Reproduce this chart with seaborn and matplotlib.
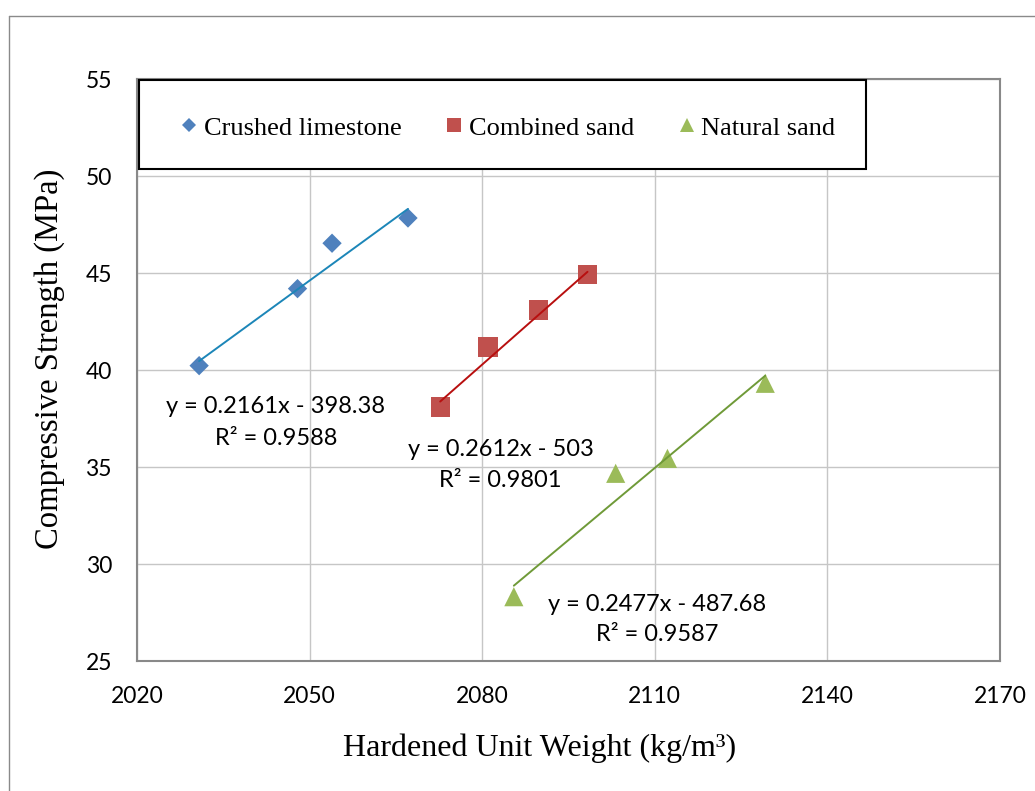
import numpy as np
import pandas as pd
import matplotlib
matplotlib.use("Agg")
import matplotlib.pyplot as plt
import seaborn as sns
from matplotlib.lines import Line2D
from matplotlib.patches import Rectangle

# ---------------- data ----------------
series = ["Crushed limestone", "Combined sand", "Natural sand"]
x_limestone = [2030.8, 2047.9, 2053.9, 2067.1]
y_limestone = [40.24, 44.21, 46.55, 47.85]
x_combined = [2072.7, 2081.0, 2089.8, 2098.3]
y_combined = [38.11, 41.20, 43.11, 44.93]
x_natural = [2085.5, 2103.2, 2112.2, 2129.2]
y_natural = [28.33, 34.69, 35.46, 39.33]
slopes = [0.2161, 0.2612, 0.2477]
intercepts = [-398.38, -503.0, -487.68]
eq_labels = ["y = 0.2161x - 398.38", "y = 0.2612x - 503", "y = 0.2477x - 487.68"]
r2_labels = ["R² = 0.9588", "R² = 0.9801", "R² = 0.9587"]
x_ticks = [2020, 2050, 2080, 2110, 2140, 2170]
y_ticks = [25, 30, 35, 40, 45, 50, 55]

# label positions (data coords)
eq_pos = [(2044.0, 38.15), (2083.2, 35.9), (2110.45, 27.95)]
r2_pos = [(2044.2, 36.5), (2083.2, 34.3), (2110.45, 26.4)]

# ---------------- style ----------------
sns.set_style("white")
plt.rcParams["font.family"] = ["Lato", "DejaVu Sans"]
plt.rcParams["text.color"] = "black"
plt.rcParams["axes.labelcolor"] = "black"
plt.rcParams["xtick.color"] = "black"
plt.rcParams["ytick.color"] = "black"

marker_colors = ["#4F81BD", "#C0504D", "#9BBB59"]
line_colors = ["#1C86B8", "#B80F0F", "#6F9A38"]
markers = ["D", "s", "^"]
marker_s = [97, 190, 190]
legend_ms = [7.5, 10.0, 10.5]

df = pd.concat([
    pd.DataFrame({"x": x_limestone, "y": y_limestone, "Material": series[0]}),
    pd.DataFrame({"x": x_combined, "y": y_combined, "Material": series[1]}),
    pd.DataFrame({"x": x_natural, "y": y_natural, "Material": series[2]}),
], ignore_index=True)

fig = plt.figure(figsize=(10.35, 7.91), dpi=100)
ax = fig.add_axes([137 / 1035, 1 - 661.3 / 791, 863 / 1035, 582 / 791])

for i, name in enumerate(series):
    sub = df[df["Material"] == name]
    sns.scatterplot(data=sub, x="x", y="y", marker=markers[i], s=marker_s[i],
                    color=marker_colors[i], edgecolor="none", linewidth=0,
                    ax=ax, zorder=3, legend=False)
    xr = np.array([sub["x"].min(), sub["x"].max()])
    sns.lineplot(x=xr, y=slopes[i] * xr + intercepts[i], color=line_colors[i],
                 lw=1.4, ax=ax, zorder=4, legend=False)
    ax.text(eq_pos[i][0], eq_pos[i][1], eq_labels[i], ha="center", va="center",
            fontsize=17, family=["Lato", "DejaVu Sans"], color="black", zorder=5)
    ax.text(r2_pos[i][0], r2_pos[i][1], r2_labels[i], ha="center", va="center",
            fontsize=17, family=["Lato", "DejaVu Sans"], color="black", zorder=5)

ax.set_xlim(2020, 2170)
ax.set_ylim(25, 55)
ax.set_xticks(x_ticks)
ax.set_yticks(y_ticks)
ax.grid(True, color="#C6C6C6", lw=1.0)
ax.set_axisbelow(True)
for sp in ax.spines.values():
    sp.set_color("#898989")
    sp.set_linewidth(1.5)
ax.tick_params(axis="both", length=0, labelsize=16.5, labelcolor="black")
ax.tick_params(axis="y", pad=18)
ax.tick_params(axis="x", pad=18)

serif = ["Liberation Serif", "DejaVu Serif"]
ax.set_xlabel("Hardened Unit Weight (kg/m³)", family=serif, fontsize=23, va="center",
              color="black")
ax.xaxis.set_label_coords((540 - 137) / 863, -(748 - 661.3) / 582)
ax.set_ylabel("Compressive Strength (MPa)", family=serif, fontsize=23.5, va="center",
              color="black")
ax.yaxis.set_label_coords((50 - 137) / 863, 1 - (358.5 - 79.3) / 582)

# legend box
ax.add_patch(Rectangle((0.0023, 0.8459), 0.8424, 0.1529, transform=ax.transAxes,
                       facecolor="white", edgecolor="black", lw=1.5, zorder=6,
                       clip_on=False))
handles = [Line2D([], [], ls="none", marker=markers[i], color=marker_colors[i],
                  markersize=legend_ms[i], markeredgewidth=0) for i in range(3)]
leg = ax.legend(handles, series, loc="center", bbox_to_anchor=(0.4287, 0.9165),
                ncol=3, frameon=False, prop={"family": serif, "size": 19},
                handlelength=0.8, handletextpad=0.15, columnspacing=1.6)
for t in leg.get_texts():
    t.set_color("black")
leg.set_zorder(7)

# outer chart border
x0 = 9 / 1035
ytop = 1 - 16 / 791
fig.add_artist(Line2D([x0, x0], [0, ytop], transform=fig.transFigure, color="#8A8A8A", lw=1))
fig.add_artist(Line2D([x0, 1], [ytop, ytop], transform=fig.transFigure, color="#8A8A8A", lw=1))

fig.savefig("out.png", dpi=100)
